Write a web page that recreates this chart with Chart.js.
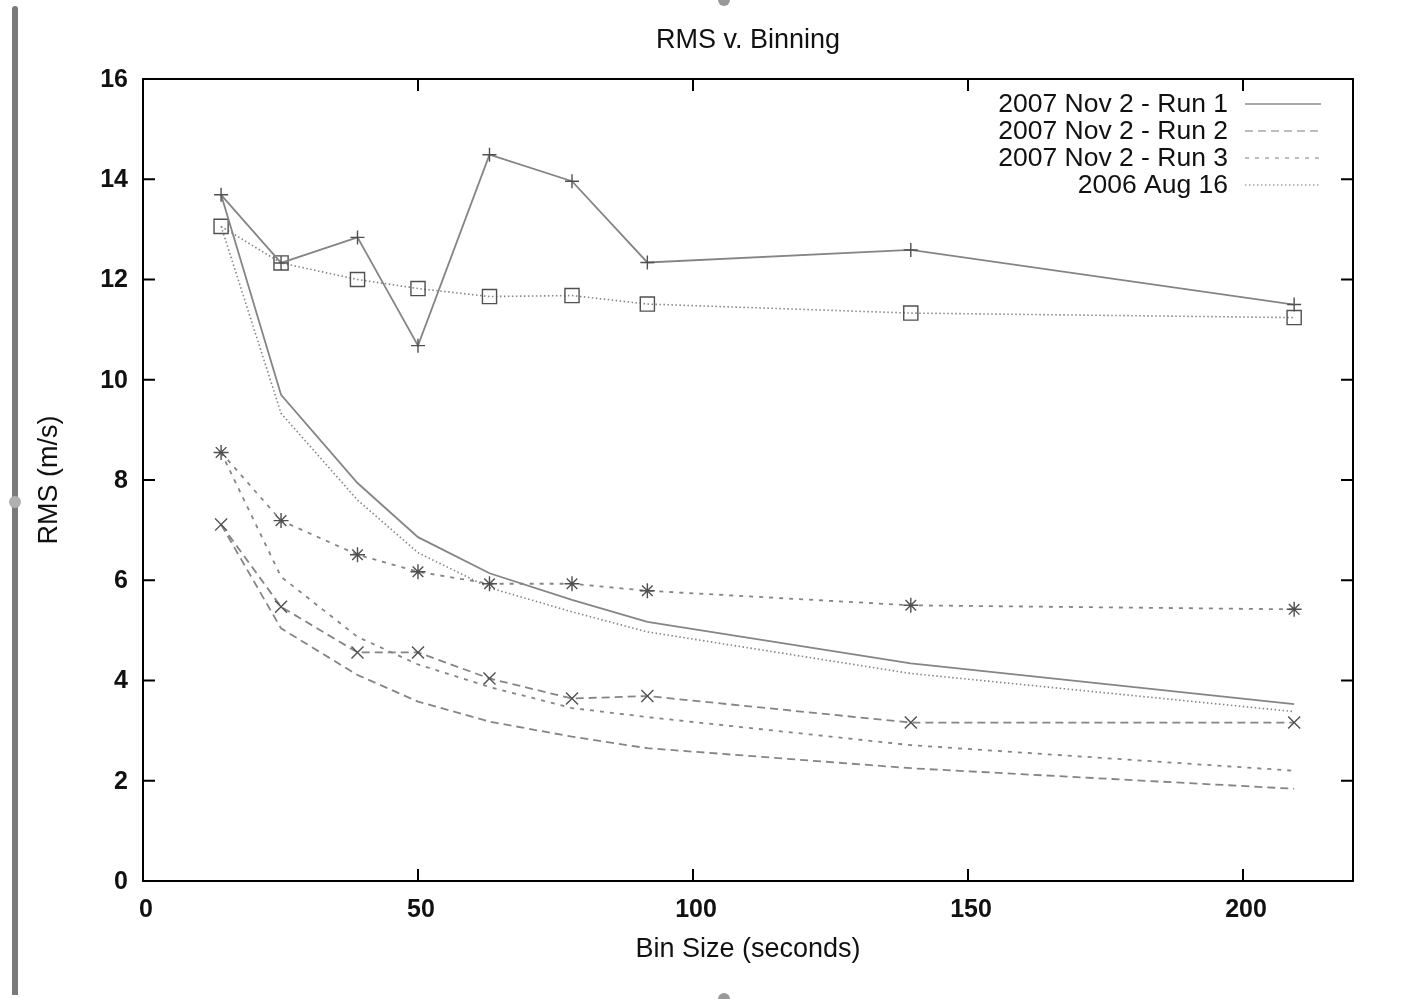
<!DOCTYPE html>
<html lang="en">
<head>
  <meta charset="UTF-8">
  <title>RMS v. Binning</title>
  <script src="https://cdn.jsdelivr.net/npm/chart.js"></script>
  <style>
    html, body { margin: 0; padding: 0; background: #fff; }
    #wrap { position: relative; width: 1422px; height: 999px; }
    #rmsChart { position: absolute; left: 0; top: 0; }
    .bar { position: absolute; left: 12px; top: 6px; width: 6px; height: 989px; background: #7a7a7a; border-radius: 3px 3px 0 0; }
    .knob { position: absolute; width: 12px; height: 12px; border-radius: 50%; background: #b0b0b0; }
  </style>
</head>
<body>
  <div id="wrap">
    <canvas id="rmsChart" width="1422" height="999"></canvas>
    <div class="bar"></div>
    <div class="knob" style="left:9px; top:496px;"></div>
    <div class="knob" style="left:718px; top:-6px; background:#999;"></div>
    <div class="knob" style="left:718px; top:993px; background:#999;"></div>
  </div>

  <script>
    // bin sizes in seconds
    const binSize = [14.2, 25.1, 39.0, 50.0, 63.0, 78.0, 91.7, 139.6, 209.3];

    // measured RMS (m/s)
    const run1 = [13.69, 12.33, 12.84, 10.68, 14.49, 13.96, 12.34, 12.59, 11.50];
    const run2 = [7.11, 5.47, 4.56, 4.56, 4.04, 3.64, 3.69, 3.16, 3.16];
    const run3 = [8.55, 7.19, 6.51, 6.17, 5.93, 5.93, 5.79, 5.50, 5.42];
    const aug16 = [13.06, 12.33, 12.00, 11.82, 11.66, 11.68, 11.51, 11.33, 11.24];

    // expected RMS falloff for pure white noise
    const run1Expected = [13.69, 9.70, 7.94, 6.86, 6.14, 5.61, 5.17, 4.34, 3.53];
    const run2Expected = [7.11, 5.04, 4.11, 3.58, 3.18, 2.88, 2.65, 2.25, 1.84];
    const run3Expected = [8.55, 6.07, 4.87, 4.32, 3.87, 3.45, 3.27, 2.71, 2.20];
    const aug16Expected = [13.06, 9.33, 7.60, 6.55, 5.85, 5.37, 4.97, 4.14, 3.38];

    const legendNames = ['2007 Nov 2 - Run 1', '2007 Nov 2 - Run 2', '2007 Nov 2 - Run 3', '2006 Aug 16'];
    const xTicks = [0, 50, 100, 150, 200];
    const yTicks = [0, 2, 4, 6, 8, 10, 12, 14, 16];

    const FONT = '"Liberation Sans", Arial, sans-serif';
    const LINE = '#858585';
    const MARK = '#505050';

    const dashes = {
      solid: [],
      long: [8, 5],
      short: [4, 6],
      dot: [1.5, 2.5]
    };

    const toXY = (ys) => ys.map((y, i) => ({ x: binSize[i], y: y }));

    function measured(label, ys, dash, style, radius) {
      return {
        label: label,
        data: toXY(ys),
        borderColor: LINE,
        borderWidth: dash === dashes.dot ? 1.6 : 1.8,
        borderDash: dash,
        pointStyle: style,
        pointRadius: radius,
        pointBorderColor: MARK,
        pointBorderWidth: 1.4,
        pointBackgroundColor: 'rgba(0,0,0,0)',
        fill: false
      };
    }

    function expected(label, ys, dash) {
      return {
        label: label,
        data: toXY(ys),
        borderColor: LINE,
        borderWidth: dash === dashes.dot ? 1.6 : 1.8,
        borderDash: dash,
        pointRadius: 0,
        fill: false
      };
    }

    // frame, inward ticks on all four sides, title, axis titles, key
    const gnuFrame = {
      id: 'gnuFrame',
      afterDraw(chart) {
        const { ctx, chartArea: a, scales } = chart;
        const tl = 12;
        ctx.save();
        ctx.strokeStyle = '#000';
        ctx.lineWidth = 2;
        ctx.setLineDash([]);
        ctx.strokeRect(a.left, a.top, a.right - a.left, a.bottom - a.top);
        ctx.beginPath();
        xTicks.forEach(v => {
          const px = scales.x.getPixelForValue(v);
          ctx.moveTo(px, a.bottom); ctx.lineTo(px, a.bottom - tl);
          ctx.moveTo(px, a.top); ctx.lineTo(px, a.top + tl);
        });
        yTicks.forEach(v => {
          const py = scales.y.getPixelForValue(v);
          ctx.moveTo(a.left, py); ctx.lineTo(a.left + tl, py);
          ctx.moveTo(a.right, py); ctx.lineTo(a.right - tl, py);
        });
        ctx.stroke();

        const midX = (a.left + a.right) / 2;
        ctx.fillStyle = '#111';
        ctx.textBaseline = 'middle';
        ctx.textAlign = 'center';
        ctx.font = '27px ' + FONT;
        ctx.fillText('RMS v. Binning', midX, 41);
        ctx.fillText('Bin Size (seconds)', midX, 950);
        ctx.save();
        ctx.translate(50, (a.top + a.bottom) / 2);
        ctx.rotate(-Math.PI / 2);
        ctx.fillText('RMS (m/s)', 0, 0);
        ctx.restore();

        // key
        const keyDash = [dashes.solid, dashes.long, dashes.short, dashes.dot];
        ctx.textAlign = 'right';
        ctx.font = '26.5px ' + FONT;
        legendNames.forEach((name, i) => {
          const y = 105 + i * 27;
          ctx.fillStyle = '#111';
          ctx.fillText(name, 1228, y);
          ctx.strokeStyle = '#a8a8a8';
          ctx.lineWidth = i === 0 ? 2 : 1.6;
          ctx.setLineDash(keyDash[i]);
          ctx.beginPath();
          ctx.moveTo(1245, y - 1);
          ctx.lineTo(1321, y - 1);
          ctx.stroke();
        });
        ctx.restore();
      }
    };

    const ctx = document.getElementById('rmsChart').getContext('2d');
    new Chart(ctx, {
      type: 'line',
      data: {
        datasets: [
          measured('2007 Nov 2 - Run 1', run1, dashes.solid, 'cross', 7),
          expected('Run 1 white noise', run1Expected, dashes.solid),
          measured('2007 Nov 2 - Run 2', run2, dashes.long, 'crossRot', 8.5),
          expected('Run 2 white noise', run2Expected, dashes.long),
          measured('2007 Nov 2 - Run 3', run3, dashes.short, 'star', 7.5),
          expected('Run 3 white noise', run3Expected, dashes.short),
          measured('2006 Aug 16', aug16, dashes.dot, 'rect', 10),
          expected('Aug 16 white noise', aug16Expected, dashes.dot)
        ]
      },
      options: {
        responsive: false,
        animation: false,
        layout: { padding: { left: 0, right: 69, top: 79, bottom: 0 } },
        plugins: {
          legend: { display: false },
          tooltip: { enabled: false }
        },
        scales: {
          x: {
            type: 'linear',
            min: 0,
            max: 220,
            grid: { display: false, drawTicks: false },
            border: { display: false },
            ticks: {
              stepSize: 50,
              includeBounds: false,
              padding: 14,
              labelOffset: 3,
              color: '#111',
              maxRotation: 0,
              font: { family: FONT, size: 25, weight: 'bold' }
            },
            afterFit(scale) { scale.height = 118; }
          },
          y: {
            min: 0,
            max: 16,
            grid: { display: false, drawTicks: false },
            border: { display: false },
            ticks: {
              stepSize: 2,
              padding: 15,
              labelOffset: 1,
              color: '#111',
              font: { family: FONT, size: 25, weight: 'bold' }
            },
            afterFit(scale) { scale.width = 143; }
          }
        }
      },
      plugins: [gnuFrame]
    });
  </script>
</body>
</html>
